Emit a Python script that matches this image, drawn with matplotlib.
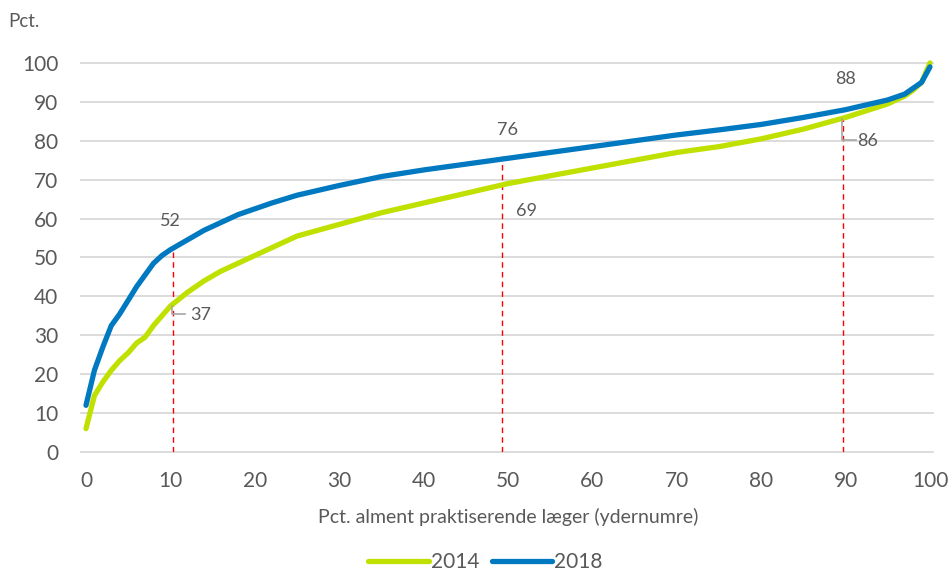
import matplotlib
matplotlib.use("Agg")
import matplotlib.pyplot as plt

plt.rcParams["font.family"] = ["Lato", "DejaVu Sans"]

# percentile of GPs (x) vs cumulative share (y)
x_pts = [0, 1, 2, 3, 4, 5, 6, 7, 8, 9, 10, 12, 14, 16, 18, 20, 22, 25, 30, 35,
         40, 45, 50, 55, 60, 65, 70, 75, 80, 85, 90, 95, 97, 98, 99, 100]
y_2014 = [6, 14.5, 18, 21, 23.5, 25.5, 28, 29.5, 32.5, 35, 37.5, 41, 44, 46.5,
          48.5, 50.5, 52.5, 55.5, 58.5, 61.5, 64, 66.5, 69, 71, 73, 75, 77,
          78.5, 80.5, 83, 86, 89.5, 91.5, 93, 95, 100]
y_2018 = [12, 21, 27, 32.5, 35.5, 39, 42.5, 45.5, 48.5, 50.5, 52, 54.5, 57, 59,
          61, 62.5, 64, 66, 68.5, 70.8, 72.5, 74, 75.5, 77, 78.5, 80, 81.5,
          82.8, 84.2, 86, 88, 90.5, 92, 93.5, 95, 99]

# marked points: x position, 2014 value, 2018 value
mark_x = [10.3, 49.3, 89.7]
mark_2014 = [37, 69, 86]
mark_2018 = [52, 76, 88]

C14 = "#C0E000"
C18 = "#0079C1"
TXT = "#595959"

fig = plt.figure(figsize=(9.48, 5.72), dpi=100)
ax = fig.add_axes([0.0907, 0.2098, 0.8903, 0.6801])

for y in range(0, 101, 10):
    ax.plot([-0.6, 100.3], [y, y], color="#D9D9D9", lw=1.3, zorder=0, clip_on=False)

for mx, m18 in zip(mark_x, mark_2018):
    ax.plot([mx, mx], [0, m18], color="#FF0000", lw=1.0, ls=(0, (4, 3)), zorder=1)

ax.plot(x_pts, y_2014, color=C14, lw=3.8, solid_capstyle="round", label="2014",
        zorder=2, clip_on=False)
ax.plot(x_pts, y_2018, color=C18, lw=3.8, solid_capstyle="round", label="2018",
        zorder=3, clip_on=False)

# data labels
fs_lab = 13
ax.text(mark_x[0] - 0.3, 59.5, "52", ha="center", va="center", fontsize=fs_lab, color=TXT)
ax.text(mark_x[1] + 0.7, 82.8, "76", ha="center", va="center", fontsize=fs_lab, color=TXT)
ax.text(mark_x[2] + 0.3, 96.0, "88", ha="center", va="center", fontsize=fs_lab, color=TXT)
ax.text(12.4, 35.2, "37", ha="left", va="center", fontsize=fs_lab, color=TXT)
ax.text(51.0, 62.0, "69", ha="left", va="center", fontsize=fs_lab, color=TXT)
ax.text(91.4, 80.0, "86", ha="left", va="center", fontsize=fs_lab, color=TXT)

# leader lines
ax.plot([mark_x[0] - 0.1, mark_x[0] - 0.1, 11.7], [37.5, 35.6, 35.6], color="#A6A6A6", lw=1.2, zorder=4)
ax.plot([mark_x[2] - 0.1, mark_x[2] - 0.1, 91.2], [85.5, 80.3, 80.3], color="#A6A6A6", lw=1.2, zorder=4)

ax.set_xlim(0, 100)
ax.set_ylim(0, 100)
ax.set_xticks(range(0, 101, 10))
ax.set_yticks(range(0, 101, 10))
ax.tick_params(length=0, labelsize=15, colors=TXT)
ax.tick_params(axis="x", pad=14)
ax.tick_params(axis="y", pad=20)
for s in ax.spines.values():
    s.set_visible(False)

ax.set_xlabel("Pct. alment praktiserende læger (ydernumre)", fontsize=14, color=TXT, labelpad=12)
fig.text(0.009, 0.962, "Pct.", fontsize=13.5, color=TXT, ha="left", va="center")

leg = fig.legend(loc="center", bbox_to_anchor=(0.512, 0.017), ncol=2, frameon=False,
                 fontsize=15, handlelength=2.9, columnspacing=0.6, handletextpad=0.1,
                 labelcolor=TXT)

fig.savefig("out.png", dpi=100)
